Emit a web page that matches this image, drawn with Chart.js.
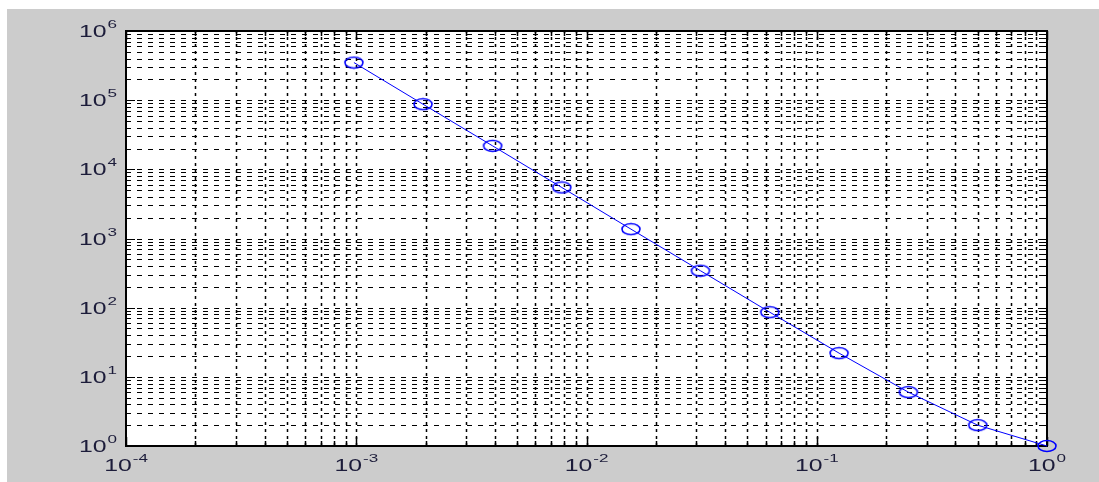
<!DOCTYPE html>
<html>
<head>
<meta charset="utf-8">
<script src="https://cdn.jsdelivr.net/npm/chart.js@4/dist/chart.umd.min.js"></script>
<style>
html,body{margin:0;padding:0;background:#fff;}
canvas{display:block;}
</style>
</head>
<body>
<canvas id="c" width="1099" height="482"></canvas>
<script>
// ---- data ----
const xValues = [0.000977, 0.00195, 0.00391, 0.00781, 0.0156, 0.03125, 0.0625, 0.125, 0.25, 0.5, 1];
const yValues = [349526, 87382, 21846, 5462, 1366, 342, 86, 22, 6, 2, 1];
const xMajorTicks = [1e-4, 1e-3, 1e-2, 1e-1, 1];
const xTickExponents = ['-4', '-3', '-2', '-1', '0'];
const yMajorTicks = [1, 10, 100, 1000, 10000, 100000, 1000000];
const yTickExponents = ['0', '1', '2', '3', '4', '5', '6'];
const minorMultipliers = [2, 3, 4, 5, 6, 7, 8, 9];

function minorTicks(majors) {
  const out = [];
  for (let i = 0; i < majors.length - 1; i++) {
    for (const m of minorMultipliers) out.push(majors[i] * m);
  }
  return out;
}

// ellipse marker
const marker = document.createElement('canvas');
marker.width = 22; marker.height = 14;
(function () {
  const m = marker.getContext('2d');
  m.strokeStyle = '#0000ff';
  m.lineWidth = 1.6;
  m.beginPath();
  m.ellipse(11, 7, 9, 5.5, 0, 0, Math.PI * 2);
  m.stroke();
})();

const SX = 1.55; // horizontal stretch of the text
function stretchedText(ctx, text, x, y) {
  ctx.save();
  ctx.translate(x, y);
  ctx.scale(SX, 1);
  ctx.fillText(text, 0, 0);
  ctx.restore();
}

const matlabPlugin = {
  id: 'matlab',
  beforeDraw(chart) {
    const ctx = chart.ctx, a = chart.chartArea;
    ctx.save();
    ctx.fillStyle = '#ffffff';
    ctx.fillRect(0, 0, chart.width, chart.height);
    ctx.fillStyle = '#cccccc';
    ctx.fillRect(7, 9, chart.width - 7, chart.height - 9);
    ctx.fillStyle = '#ffffff';
    ctx.fillRect(a.left, a.top, a.right - a.left, a.bottom - a.top);
    ctx.restore();
  },
  beforeDatasetsDraw(chart) {
    const ctx = chart.ctx, a = chart.chartArea;
    const xs = chart.scales.x, ys = chart.scales.y;
    const allX = xMajorTicks.concat(minorTicks(xMajorTicks));
    const allY = yMajorTicks.concat(minorTicks(yMajorTicks));
    ctx.save();
    ctx.strokeStyle = '#000000';
    // vertical dotted grid
    ctx.lineWidth = 1.5;
    ctx.setLineDash([3, 4]);
    for (const v of allX) {
      const px = Math.round(xs.getPixelForValue(v)) + 0.5;
      if (px <= a.left + 1 || px >= a.right - 1) continue;
      ctx.beginPath(); ctx.moveTo(px, a.bottom); ctx.lineTo(px, a.top); ctx.stroke();
    }
    // horizontal dashed grid
    ctx.lineWidth = 1;
    ctx.setLineDash([5, 6]);
    for (const v of allY) {
      const py = Math.round(ys.getPixelForValue(v)) + 0.5;
      if (py <= a.top + 1 || py >= a.bottom - 1) continue;
      ctx.beginPath(); ctx.moveTo(a.left, py); ctx.lineTo(a.right, py); ctx.stroke();
    }
    ctx.setLineDash([]);
    // tick marks (inside, all four sides)
    const majX = new Set(xMajorTicks), majY = new Set(yMajorTicks);
    ctx.lineWidth = 1.5;
    for (const v of allX) {
      const px = Math.round(xs.getPixelForValue(v)) + 0.5;
      const len = majX.has(v) ? 9 : 5;
      ctx.beginPath();
      ctx.moveTo(px, a.bottom); ctx.lineTo(px, a.bottom - len);
      ctx.moveTo(px, a.top); ctx.lineTo(px, a.top + len);
      ctx.stroke();
    }
    ctx.lineWidth = 1;
    for (const v of allY) {
      const py = Math.round(ys.getPixelForValue(v)) + 0.5;
      const len = majY.has(v) ? 9 : 5;
      ctx.beginPath();
      ctx.moveTo(a.left, py); ctx.lineTo(a.left + len, py);
      ctx.moveTo(a.right, py); ctx.lineTo(a.right - len, py);
      ctx.stroke();
    }
    // box
    ctx.lineWidth = 2;
    ctx.strokeRect(a.left, a.top, a.right - a.left, a.bottom - a.top);
    ctx.restore();
  },
  afterDraw(chart) {
    const ctx = chart.ctx, a = chart.chartArea;
    const xs = chart.scales.x, ys = chart.scales.y;
    ctx.save();
    ctx.fillStyle = '#1c1c3a';
    ctx.textBaseline = 'alphabetic';
    ctx.textAlign = 'left';
    const bigFont = '16px "Liberation Sans", Arial, sans-serif';
    const smallFont = '11px "Liberation Sans", Arial, sans-serif';
    // x labels
    xMajorTicks.forEach((v, i) => {
      const px = xs.getPixelForValue(v);
      ctx.font = bigFont; const w1 = ctx.measureText('10').width * SX;
      ctx.font = smallFont; const w2 = ctx.measureText(xTickExponents[i]).width * SX;
      const x0 = px - (w1 + 1 + w2) / 2;
      ctx.font = bigFont; stretchedText(ctx, '10', x0, a.bottom + 25);
      ctx.font = smallFont; stretchedText(ctx, xTickExponents[i], x0 + w1 + 1, a.bottom + 16);
    });
    // y labels
    yMajorTicks.forEach((v, i) => {
      const py = ys.getPixelForValue(v);
      const right = a.left - 9;
      ctx.font = smallFont; const w2 = ctx.measureText(yTickExponents[i]).width * SX;
      ctx.font = bigFont; const w1 = ctx.measureText('10').width * SX;
      stretchedText(ctx, '10', right - w2 - 1 - w1, py + 6);
      ctx.font = smallFont; stretchedText(ctx, yTickExponents[i], right - w2, py - 3);
    });
    ctx.restore();
  }
};

new Chart(document.getElementById('c'), {
  type: 'line',
  data: {
    datasets: [{
      data: xValues.map((x, i) => ({ x: x, y: yValues[i] })),
      borderColor: '#0000ff',
      borderWidth: 1,
      pointStyle: marker,
      pointRadius: 6,
      tension: 0,
      fill: false,
      clip: false
    }]
  },
  options: {
    responsive: false,
    devicePixelRatio: 1,
    animation: false,
    events: [],
    layout: { padding: { left: 126, right: 52, top: 31, bottom: 36 } },
    plugins: { legend: { display: false }, tooltip: { enabled: false } },
    scales: {
      x: { type: 'logarithmic', min: 1e-4, max: 1, display: false },
      y: { type: 'logarithmic', min: 1, max: 1e6, display: false }
    }
  },
  plugins: [matlabPlugin]
});
</script>
</body>
</html>
